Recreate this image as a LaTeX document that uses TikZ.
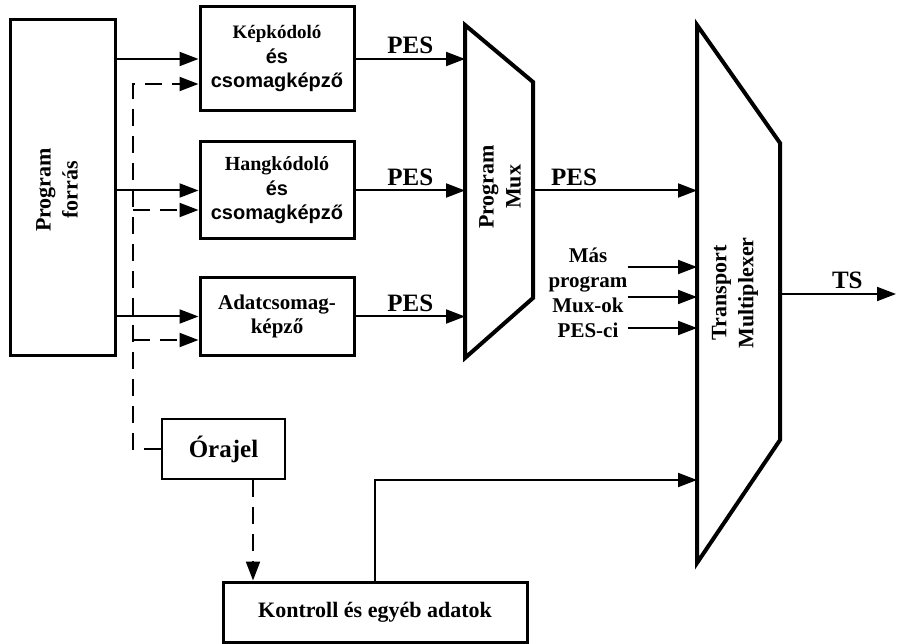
\documentclass[tikz,border=0pt]{standalone}
\usepackage{fontspec}
\setmainfont{Liberation Serif}
\setsansfont{Liberation Sans}
\usetikzlibrary{arrows.meta}

% Styles for boxes, signals and labels
\tikzset{
  blk/.style={draw, line width=3pt, align=center, inner sep=0pt, font=\bfseries\fontsize{19}{22}\selectfont},
  sig/.style={line width=2pt, -{Triangle[length=19pt,width=14pt]}},
  clkline/.style={sig, dash pattern=on 17pt off 10pt},
  mux/.style={line width=4pt, line join=miter},
  lbl/.style={inner sep=1pt, font=\bfseries\fontsize{25}{28}\selectfont},
  vtxt/.style={rotate=90, align=center, inner sep=0pt, font=\bfseries\fontsize{22}{27}\selectfont},
}
\newcommand{\sfline}[1]{{\sffamily\fontsize{20}{22}\selectfont #1}}

\begin{document}
\begin{tikzpicture}[x=1pt, y=-1pt]
\useasboundingbox (0,0) rectangle (897,644);

% Program source
\node[blk, minimum width=105pt, minimum height=335pt] (src) at (62.5,187.5) {};
\node[vtxt] (srctxt) at (57,190) {Program\\forrás};

% Encoders and packetizers
\node[blk, minimum width=154pt, minimum height=104pt] (kep) at (277,59) {Képkódoló\\[3pt]\sfline{és}\\[2pt]\sfline{csomagképző}};
\node[blk, minimum width=154pt, minimum height=97pt, font=\bfseries\fontsize{20}{22}\selectfont] (hang) at (277,190.5) {Hangkódoló\\[3pt]\sfline{és}\\[2pt]\sfline{csomagképző}};
\node[blk, minimum width=154pt, minimum height=77pt, font=\bfseries\fontsize{21}{24}\selectfont] (adat) at (277,316.5) {Adatcsomag-\\képző};

% Clock and control
\node[blk, line width=2.5pt, minimum width=123pt, minimum height=60pt, font=\bfseries\fontsize{25}{28}\selectfont] (clk) at (223.5,449) {Órajel};
\node[blk, minimum width=304pt, minimum height=60pt, font=\bfseries\fontsize{22}{26}\selectfont] (ctrl) at (375,612) {Kontroll és egyéb adatok};

% Program Mux
\coordinate (pm-a) at (465,25);
\coordinate (pm-b) at (533,82);
\coordinate (pm-c) at (533,298);
\coordinate (pm-d) at (465,358);
\draw[mux] (pm-a) -- (pm-b) -- (pm-c) -- (pm-d) -- cycle;
\node[vtxt] (pmtxt) at (500,187) {Program\\Mux};

% Transport Multiplexer
\coordinate (tm-a) at (697,25);
\coordinate (tm-b) at (780,143);
\coordinate (tm-c) at (780,440);
\coordinate (tm-d) at (697,563);
\draw[mux] (tm-a) -- (tm-b) -- (tm-c) -- (tm-d) -- cycle;
\node[vtxt] (tmtxt) at (735,293) {Transport\\Multiplexer};

% Source to encoders
\draw[sig] (src.east |- kep.west) -- (kep.west);
\draw[sig] (src.east |- hang.west) -- (hang.west);
\draw[sig] (src.east |- adat.west) -- (adat.west);

% Clock bus
\coordinate (bus-top) at (133,84);
\coordinate (bus-h) at (133,210);
\coordinate (bus-a) at (133,340);
\draw[clkline] (clk.west) -- (clk.west -| bus-top) -- (bus-top) -- (kep.west |- bus-top);
\draw[clkline] (bus-h) -- (hang.west |- bus-h);
\draw[clkline] (bus-a) -- (adat.west |- bus-a);
\draw[clkline] ([xshift=29.5pt]clk.south) -- ([xshift=29.5pt]clk.south |- ctrl.north);

% PES streams
\draw[sig] (kep.east) -- (kep.east -| pm-a) node[lbl, midway, above=3pt] (pes1) {PES};
\draw[sig] (hang.east) -- (hang.east -| pm-a) node[lbl, midway, above=3pt] (pes2) {PES};
\draw[sig] (adat.east) -- (adat.east -| pm-a) node[lbl, midway, above=3pt] (pes3) {PES};
\draw[sig] (pm-b |- hang.east) -- (tm-a |- hang.east) node[lbl, pos=0.25, above=3pt] (pes4) {PES};

% Other programs
\node[inner sep=0pt, align=center, font=\bfseries\fontsize{21}{25}\selectfont] (more) at (588,293) {Más\\program\\Mux-ok\\PES-ci};
\draw[sig] (more.east |- 0,267) -- (tm-a |- 0,267);
\draw[sig] (more.east |- 0,297) -- (tm-a |- 0,297);
\draw[sig] (more.east |- 0,328) -- (tm-a |- 0,328);

% Control data and output
\draw[sig] (ctrl.north) |- (tm-a |- 0,480);
\coordinate (ts-out) at (896,294);
\draw[sig] (tm-b |- ts-out) -- (ts-out) node[lbl, pos=0.58, above=3pt] (ts) {TS};
\end{tikzpicture}
\end{document}
